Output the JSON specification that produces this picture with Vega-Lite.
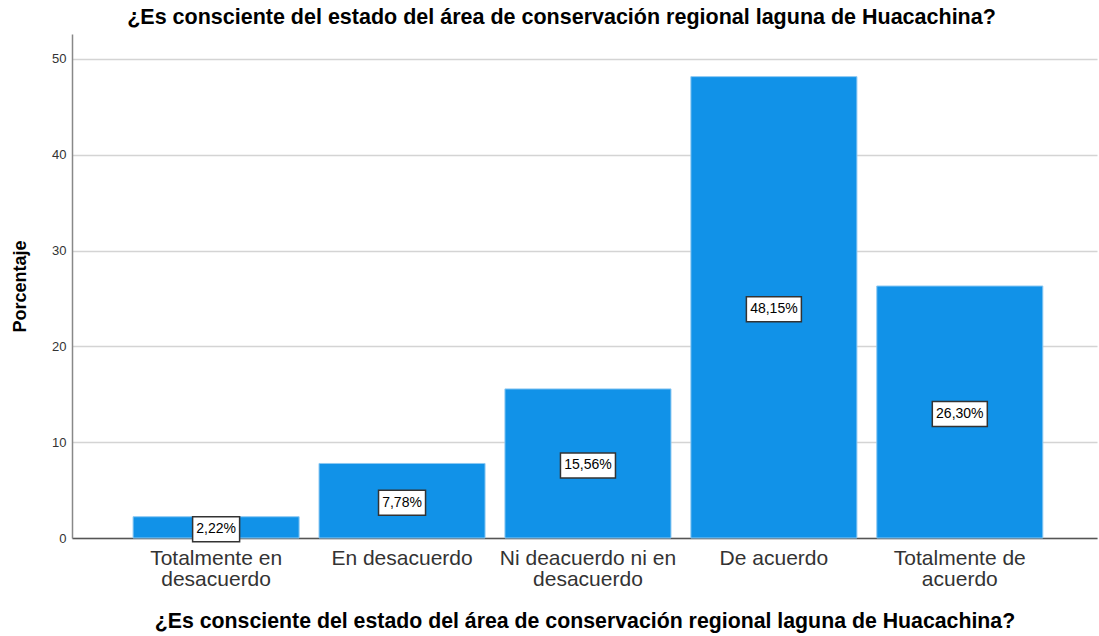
{
  "$schema": "https://vega.github.io/schema/vega-lite/v6.json",
  "autosize": "none",
  "width": 1025,
  "height": 504,
  "padding": {"left": 72, "top": 34, "right": 2, "bottom": 98},
  "background": "white",
  "config": {"view": {"stroke": null}},
  "title": {
    "text": "¿Es consciente del estado del área de conservación regional laguna de Huacachina?",
    "font": "Liberation Sans",
    "fontSize": 21.5,
    "fontWeight": "bold",
    "color": "#000000",
    "dx": -23,
    "offset": 6
  },
  "data": {
    "values": [
      {"categoria": "Totalmente en desacuerdo", "porcentaje": 2.22, "etiqueta": "2,22%"},
      {"categoria": "En desacuerdo", "porcentaje": 7.78, "etiqueta": "7,78%"},
      {"categoria": "Ni deacuerdo ni en desacuerdo", "porcentaje": 15.56, "etiqueta": "15,56%"},
      {"categoria": "De acuerdo", "porcentaje": 48.15, "etiqueta": "48,15%"},
      {"categoria": "Totalmente de acuerdo", "porcentaje": 26.30, "etiqueta": "26,30%"}
    ]
  },
  "encoding": {
    "x": {
      "field": "categoria",
      "type": "nominal",
      "sort": null,
      "scale": {"paddingInner": 0.107, "paddingOuter": 0.31, "align": 0.53},
      "axis": {
        "title": "¿Es consciente del estado del área de conservación regional laguna de Huacachina?",
        "titleFont": "Liberation Sans",
        "titleFontSize": 21.3,
        "titleFontWeight": "bold",
        "titleColor": "#000000",
        "titlePadding": 21,
        "labelFont": "Liberation Sans",
        "labelFontSize": 21,
        "labelColor": "#333333",
        "labelAngle": 0,
        "labelPadding": 9,
        "labelLimit": 300,
        "labelLineHeight": 21.5,
        "labelExpr": "datum.label == 'Totalmente en desacuerdo' ? ['Totalmente en', 'desacuerdo'] : datum.label == 'Ni deacuerdo ni en desacuerdo' ? ['Ni deacuerdo ni en', 'desacuerdo'] : datum.label == 'Totalmente de acuerdo' ? ['Totalmente de', 'acuerdo'] : datum.label",
        "ticks": false,
        "domainColor": "#555555",
        "domainWidth": 1.5,
        "grid": false
      }
    }
  },
  "layer": [
    {
      "mark": {"type": "bar", "color": "#1192e8", "stroke": "#8cc8f2", "strokeWidth": 1},
      "encoding": {
        "y": {
          "field": "porcentaje",
          "type": "quantitative",
          "scale": {"domain": [0, 52.6], "nice": false},
          "axis": {
            "title": "Porcentaje",
            "titleFont": "Liberation Sans",
            "titleFontSize": 18,
            "titleFontWeight": "bold",
            "titleColor": "#000000",
            "titlePadding": 22,
            "labelFont": "Liberation Sans",
            "labelFontSize": 13,
            "labelColor": "#333333",
            "labelPadding": 6,
            "values": [0, 10, 20, 30, 40, 50],
            "ticks": false,
            "grid": true,
            "gridColor": "#d4d4d4",
            "gridWidth": 1.5,
            "domainColor": "#888888",
            "domainWidth": 1.5
          }
        }
      }
    },
    {
      "layer": [
        {
          "mark": {
            "type": "point",
            "filled": true,
            "fill": "white",
            "stroke": "#333333",
            "strokeWidth": 1.5,
            "opacity": 1,
            "yOffset": 2
          },
          "encoding": {
            "y": {"field": "porcentaje", "type": "quantitative", "scale": {"domain": [0, 105.2], "nice": false}, "axis": null},
            "shape": {
              "condition": {"test": "length(datum.etiqueta) > 5", "value": "M-1,-0.4545L1,-0.4545L1,0.4545L-1,0.4545Z"},
              "value": "M-1,-0.532L1,-0.532L1,0.532L-1,0.532Z"
            },
            "size": {
              "condition": {"test": "length(datum.etiqueta) > 5", "value": 3025},
              "value": 2209
            }
          }
        },
        {
          "mark": {
            "type": "text",
            "font": "Liberation Sans",
            "fontSize": 14,
            "color": "#000000",
            "yOffset": 2
          },
          "encoding": {
            "y": {"field": "porcentaje", "type": "quantitative", "scale": {"domain": [0, 105.2], "nice": false}, "axis": null},
            "text": {"field": "etiqueta"}
          }
        }
      ]
    }
  ],
  "resolve": {"scale": {"y": "independent"}}
}
